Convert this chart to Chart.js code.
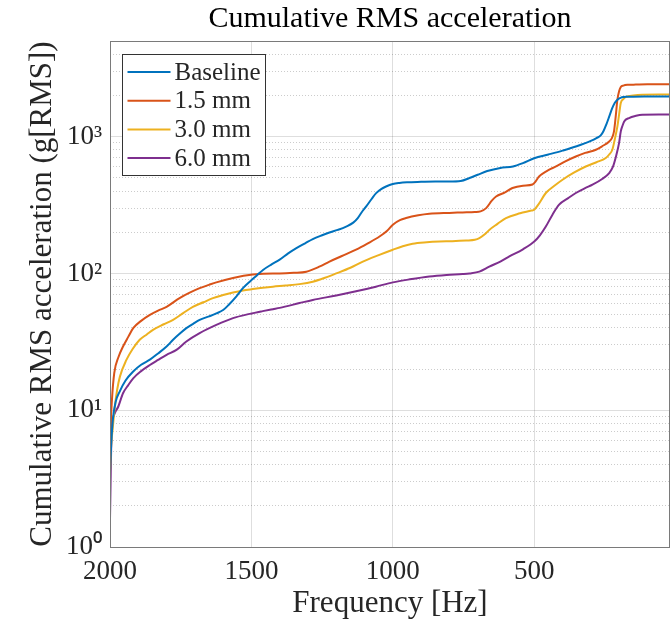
<!DOCTYPE html>
<html><head><meta charset="utf-8">
<script src="https://cdn.jsdelivr.net/npm/chart.js@4/dist/chart.umd.min.js"></script>
<style>html,body{margin:0;padding:0;background:#fff}canvas{display:block}</style>
</head><body>
<canvas id="c" width="671" height="622"></canvas>
<script>
const chartTitle = 'Cumulative RMS acceleration';
const xTitle = 'Frequency [Hz]';
const yTitle = 'Cumulative RMS acceleration (g[RMS])';
const seriesLabels = ['Baseline', '1.5 mm', '3.0 mm', '6.0 mm'];
const seriesColors = ['#0072BD', '#D95319', '#EDB120', '#7E2F8E'];
const xTickValues = [2000, 1500, 1000, 500];
const yDecades = [1, 10, 100, 1000];
const yDecadeLabels = ['10\u2070', '10\u00B9', '10\u00B2', '10\u00B3'];
const yMinorMultipliers = [2, 3, 4, 5, 6, 7, 8, 9];

const baselineFreq = [2000,1996,1990,1980,1965,1945,1918,1890,1859,1830,1800,1777,1755,1730,1705,1683,1650,1624,1600,1580,1553,1530,1506,1480,1459,1430,1400,1370,1341,1310,1283,1250,1224,1195,1165,1140,1124,1110,1094,1075,1059,1040,1024,1000,977,950,900,850,800,760,729,700,666,620,575,540,500,450,400,350,300,280,265,255,245,235,225,215,205,195,185,170,150,100,20];
const baselineVals = [3.5,5.5,8.5,11.5,13.8,16.5,19.2,21.5,23.4,26,29.2,32.7,36,39.8,43,45.8,48.5,51,54,59,68,78,87,97,106,116,126,140,153,166,178,190,199,208,220,235,254,280,309,350,386,415,432,450,458,463,467,470,470,474,498,526,560,590,605,640,695,740,790,850,930,975,1020,1100,1230,1400,1600,1770,1870,1920,1945,1955,1960,1962,1963];

const mm15Freq = [2000,1997,1993,1985,1970,1954,1935,1918,1890,1859,1830,1800,1754,1720,1683,1650,1624,1565,1495,1424,1400,1350,1306,1260,1224,1180,1130,1090,1047,1020,1000,975,953,910,871,800,753,710,690,670,650,635,605,577,540,506,495,485,476,450,423,390,353,320,282,260,235,225,218,212,206,200,194,185,170,141,100,20];
const mm15Vals = [3.5,8,12,18.7,24.5,29.2,34.5,39.8,45,49.8,53.5,57,66,72,78,82.5,86,92.5,98,100,100,101,103,112,122,134,149,165,186,205,227,245,254,266,273,277,279,281,284,300,340,365,390,421,438,447,470,505,526,570,605,660,716,760,802,850,922,980,1092,1400,1862,2150,2306,2360,2390,2400,2410,2415];

const mm30Freq = [2000,1996,1990,1983,1975,1965,1942,1920,1895,1870,1848,1810,1777,1740,1707,1670,1636,1600,1565,1530,1495,1460,1424,1380,1330,1283,1240,1200,1150,1106,1050,1000,965,930,880,835,790,741,710,694,675,659,630,600,550,510,500,485,459,430,400,360,318,280,247,235,224,215,206,200,194,185,176,150,118,60,20];
const mm30Vals = [3.5,5.5,7.5,10.6,14,17.6,23.3,28,32.7,35.8,38.7,42.5,45.8,51.5,57,61.5,66,69.5,72.5,75,76.8,78.5,80,81.5,83.5,87,93,100,110,122,136,149,158,165,169,171,172,174,176,181,193,208,230,254,275,288,292,320,387,435,484,545,605,650,697,740,802,960,1188,1450,1762,1880,1950,2000,2026,2030,2030];

const mm60Freq = [2000,1998,1996,1993,1985,1971,1954,1935,1918,1890,1859,1830,1800,1765,1730,1683,1624,1565,1506,1460,1424,1400,1330,1283,1200,1130,1060,1000,940,871,810,753,729,694,659,620,588,540,500,480,459,435,412,380,353,320,294,260,235,222,211,200,194,188,182,165,140,118,60,20];
const mm60Vals = [1.6,2.9,5.1,7.6,9.3,10.6,13.3,15.3,17.1,19.3,21.4,23.3,25.4,27.6,31.8,36.6,42,47.1,50.6,53,54.8,56,60.7,64,69,74,80,86,90.5,95,97.5,99,100,103,112,122,133,150,171,190,220,270,318,355,387,420,445,490,542,600,716,900,1092,1200,1291,1367,1420,1445,1450,1450];

const seriesFreqs = [baselineFreq, mm15Freq, mm30Freq, mm60Freq];
const seriesVals = [baselineVals, mm15Vals, mm30Vals, mm60Vals];

const yTickValues = [];
yDecades.forEach(d => { yTickValues.push(d); yMinorMultipliers.forEach(m => { if (d * m <= 5000) yTickValues.push(d * m); }); });

function isMajor(v) { const l = Math.log10(v); return Math.abs(l - Math.round(l)) < 1e-9; }

Chart.defaults.font.family = "'Liberation Serif', 'Times New Roman', serif";
Chart.defaults.color = '#262626';

const frame = {
  id: 'frame',
  afterDatasetsDraw(chart) {
    const {ctx, chartArea: a} = chart;
    ctx.save();
    ctx.strokeStyle = '#7a7a7a';
    ctx.lineWidth = 1;
    ctx.strokeRect(Math.round(a.left) + 0.5, Math.round(a.top) + 0.5, Math.round(a.right - a.left) - 1, Math.round(a.bottom - a.top));
    ctx.restore();
  }
};

const boxLegend = {
  id: 'boxLegend',
  afterDraw(chart) {
    const {ctx, chartArea: a} = chart;
    const bx = Math.round(a.left) + 12.5, by = Math.round(a.top) + 13.5, bw = 143, bh = 121;
    ctx.save();
    ctx.fillStyle = '#fff';
    ctx.fillRect(bx, by, bw, bh);
    ctx.strokeStyle = '#333';
    ctx.lineWidth = 1;
    ctx.strokeRect(bx, by, bw, bh);
    ctx.font = "25px 'Liberation Serif', serif";
    ctx.textBaseline = 'middle';
    ctx.textAlign = 'left';
    chart.data.datasets.forEach((ds, i) => {
      const y = by + 17.5 + i * 28.7;
      ctx.strokeStyle = ds.borderColor;
      ctx.lineWidth = 2;
      ctx.beginPath();
      ctx.moveTo(bx + 5, y);
      ctx.lineTo(bx + 48, y);
      ctx.stroke();
      ctx.fillStyle = '#262626';
      ctx.fillText(ds.label, bx + 52, y + 1);
    });
    ctx.restore();
  }
};

new Chart(document.getElementById('c'), {
  type: 'line',
  data: {
    datasets: seriesLabels.map((lab, i) => ({
      label: lab,
      data: seriesFreqs[i].map((f, j) => ({x: f, y: seriesVals[i][j]})),
      borderColor: seriesColors[i],
      borderWidth: 2,
      pointRadius: 0,
      fill: false,
      cubicInterpolationMode: 'monotone'
    }))
  },
  options: {
    responsive: false,
    animation: false,
    layout: {padding: {left: 0, right: 1, top: 0, bottom: 0}},
    plugins: {
      legend: {display: false},
      tooltip: {enabled: false},
      title: {
        display: true,
        fullSize: false,
        text: chartTitle,
        color: '#000',
        font: {size: 30, weight: 'normal', lineHeight: 1.2},
        padding: {top: 1, bottom: 4}
      }
    },
    scales: {
      x: {
        type: 'linear',
        min: 20, max: 2000,
        reverse: true,
        afterBuildTicks: s => { s.ticks = xTickValues.map(v => ({value: v})); },
        afterFit: s => { s.height = 75; },
        ticks: {
          autoSkip: false, maxRotation: 0,
          font: {size: 27},
          padding: 9,
          callback: v => String(v)
        },
        grid: {color: 'rgba(0,0,0,0.13)', lineWidth: 1, drawTicks: false},
        border: {display: false},
        title: {display: true, text: xTitle, color: '#262626', font: {size: 31, lineHeight: 1.2}, padding: {top: 0, bottom: 0}}
      },
      y: {
        type: 'logarithmic',
        min: 1, max: 5000,
        afterBuildTicks: s => { s.ticks = yTickValues.map(v => ({value: v})); },
        afterFit: s => { s.width = 110; },
        ticks: {
          autoSkip: false,
          font: {size: 27},
          padding: 8,
          callback: v => { const k = yDecades.indexOf(v); return k >= 0 ? yDecadeLabels[k] : ''; }
        },
        grid: {
          color: c => (c.tick && !isMajor(c.tick.value)) ? 'rgba(0,0,0,0.2)' : 'rgba(0,0,0,0.13)',
          lineWidth: 1,
          drawTicks: false
        },
        border: {display: false, dash: c => (c.tick && !isMajor(c.tick.value)) ? [1, 2] : []},
        title: {display: true, text: yTitle, color: '#262626', font: {size: 31, lineHeight: 1.2}, padding: {top: 24, bottom: 0}}
      }
    }
  },
  plugins: [frame, boxLegend]
});
</script>
</body></html>
